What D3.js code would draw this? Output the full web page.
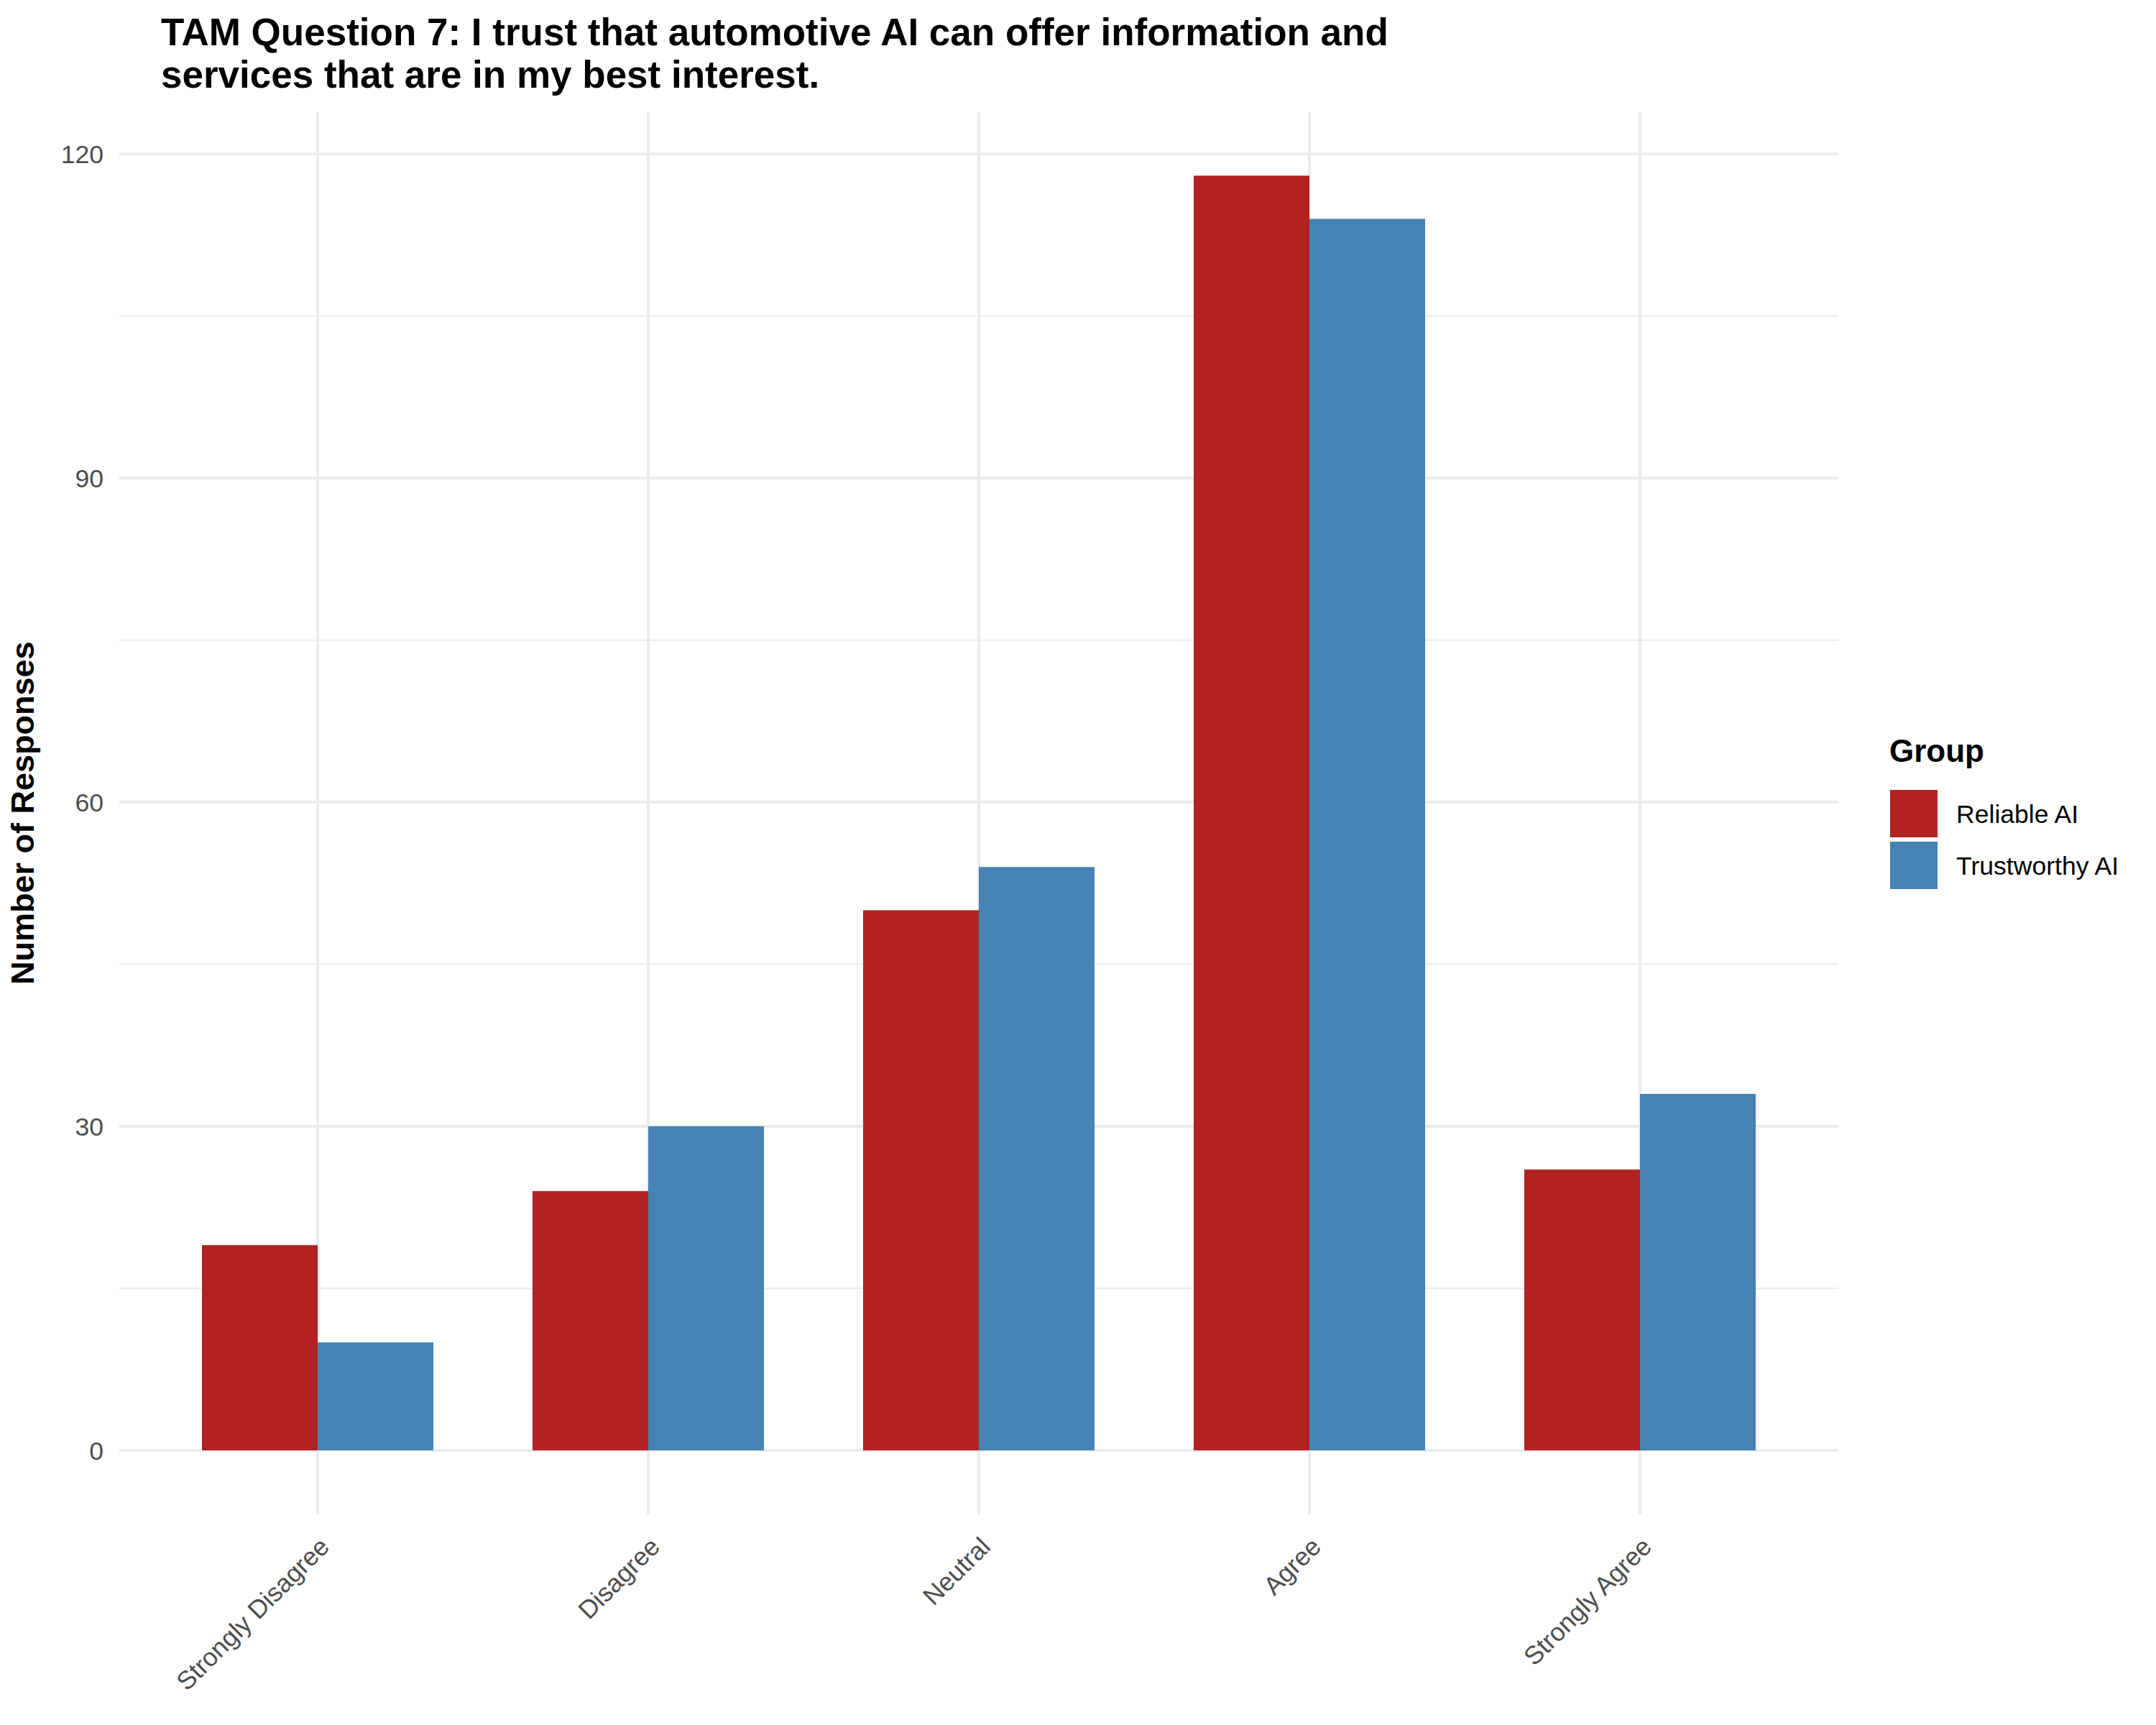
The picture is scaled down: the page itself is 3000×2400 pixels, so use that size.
<!DOCTYPE html>
<html>
<head>
<meta charset="utf-8">
<script src="https://cdn.jsdelivr.net/npm/d3@7"></script>
<style>
  body { margin: 0; background: #fff; }
  text { font-family: "Liberation Sans", Arial, sans-serif; }
</style>
</head>
<body>
<div id="chart"></div>
<script>
const categories = ["Strongly Disagree", "Disagree", "Neutral", "Agree", "Strongly Agree"];
const groups = ["Reliable AI", "Trustworthy AI"];
const reliableAI = [19, 24, 50, 118, 26];
const trustworthyAI = [10, 30, 54, 114, 33];
const yTicks = [0, 30, 60, 90, 120];
const yMinorTicks = [15, 45, 75, 105];
const colors = ["#B22222", "#4682B4"];

const width = 3000, height = 2400;
const svg = d3.select("#chart")
    .append("svg")
    .attr("width", width)
    .attr("height", height);

// panel area
const panelLeft = 166, panelRight = 2558, panelTop = 155.7, panelBottom = 2106.6;

const x = d3.scalePoint()
    .domain(categories)
    .range([panelLeft, panelRight])
    .padding(0.6);

const step = x.step();
const xGroup = d3.scaleBand()
    .domain(groups)
    .range([-0.35 * step, 0.35 * step]);

const y = d3.scaleLinear()
    .domain([-5.9, 123.9])
    .range([panelBottom, panelTop]);

const color = d3.scaleOrdinal().domain(groups).range(colors);

// gridlines
svg.append("g")
    .selectAll("line")
    .data(yMinorTicks)
    .enter()
    .append("line")
    .attr("x1", panelLeft).attr("x2", panelRight)
    .attr("y1", d => y(d)).attr("y2", d => y(d))
    .attr("stroke", "#EBEBEB")
    .attr("stroke-width", 2);

svg.append("g")
    .selectAll("line")
    .data(yTicks)
    .enter()
    .append("line")
    .attr("x1", panelLeft).attr("x2", panelRight)
    .attr("y1", d => y(d)).attr("y2", d => y(d))
    .attr("stroke", "#EBEBEB")
    .attr("stroke-width", 4);

svg.append("g")
    .selectAll("line")
    .data(categories)
    .enter()
    .append("line")
    .attr("x1", d => x(d)).attr("x2", d => x(d))
    .attr("y1", panelTop).attr("y2", panelBottom)
    .attr("stroke", "#EBEBEB")
    .attr("stroke-width", 4);

// bars
const rows = categories.map((c, i) => ({
    category: c,
    values: [
        { group: groups[0], value: reliableAI[i] },
        { group: groups[1], value: trustworthyAI[i] }
    ]
}));

svg.append("g")
    .selectAll("g")
    .data(rows)
    .enter()
    .append("g")
    .attr("transform", d => `translate(${x(d.category)},0)`)
    .selectAll("rect")
    .data(d => d.values)
    .enter()
    .append("rect")
    .attr("x", d => xGroup(d.group))
    .attr("width", xGroup.bandwidth())
    .attr("y", d => y(d.value))
    .attr("height", d => y(0) - y(d.value))
    .attr("fill", d => color(d.group));

// y tick labels
svg.append("g")
    .selectAll("text")
    .data(yTicks)
    .enter()
    .append("text")
    .attr("x", 144)
    .attr("y", d => y(d))
    .attr("dy", "0.36em")
    .attr("text-anchor", "end")
    .attr("font-size", 35.6)
    .attr("fill", "#4D4D4D")
    .text(d => d);

// x tick labels, rotated
svg.append("g")
    .selectAll("text")
    .data(categories)
    .enter()
    .append("text")
    .attr("transform", d => `translate(${x(d)},2136) rotate(-45)`)
    .attr("dy", "0.72em")
    .attr("text-anchor", "end")
    .attr("font-size", 35.6)
    .attr("fill", "#4D4D4D")
    .text(d => d);

// axis title
svg.append("text")
    .attr("transform", `translate(47,${(panelTop + panelBottom) / 2}) rotate(-90)`)
    .attr("text-anchor", "middle")
    .attr("font-size", 45)
    .attr("font-weight", "bold")
    .text("Number of Responses");

// title
const title = svg.append("text")
    .attr("font-size", 53)
    .attr("font-weight", "bold");
title.append("tspan").attr("x", 224).attr("y", 63)
    .text("TAM Question 7: I trust that automotive AI can offer information and");
title.append("tspan").attr("x", 224).attr("y", 122)
    .text("services that are in my best interest.");

// legend
const legend = svg.append("g");
legend.append("text")
    .attr("x", 2629).attr("y", 1060)
    .attr("font-size", 44)
    .attr("font-weight", "bold")
    .text("Group");

const items = legend.selectAll("g.item")
    .data(groups)
    .enter()
    .append("g")
    .attr("class", "item")
    .attr("transform", (d, i) => `translate(2630,${1099 + i * 72})`);

items.append("rect")
    .attr("width", 66).attr("height", 66)
    .attr("fill", d => color(d));

items.append("text")
    .attr("x", 92).attr("y", 46)
    .attr("font-size", 35.6)
    .text(d => d);
</script>
</body>
</html>
